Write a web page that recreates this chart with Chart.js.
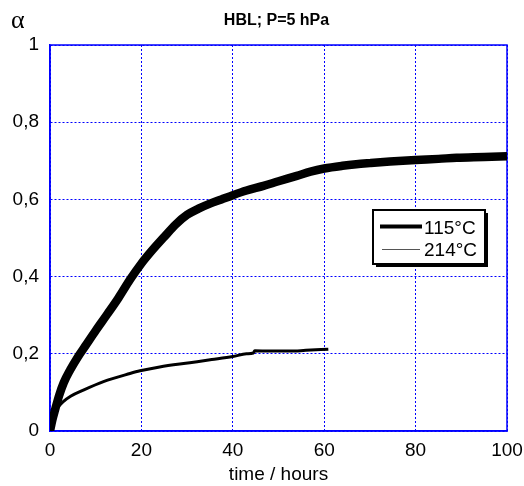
<!DOCTYPE html>
<html lang="en">
<head>
    <meta charset="UTF-8">
    <title>HBL; P=5 hPa</title>
    <script src="https://cdn.jsdelivr.net/npm/chart.js"></script>
    <style>
        body { margin: 0; background: #ffffff; }
        #chartWrap { width: 524px; height: 486px; }
    </style>
</head>
<body>
    <div id="chartWrap">
        <canvas id="alphaChart" width="524" height="486"></canvas>
    </div>
    <script>
        // data
        const chartTitle = 'HBL; P=5 hPa';
        const seriesLabels = ['115°C', '214°C'];

        const time115 = [0, 0.5, 1, 2, 3, 4.4, 6, 8, 10, 12.5, 15, 17.5, 20, 22.5, 25, 27.5, 30, 32.5, 35, 37.5, 40,
            43, 46.7, 50, 54, 57, 60, 64, 67, 70, 74.4, 80, 85, 89, 95, 100];
        const alpha115 = [0, 0.028, 0.05, 0.092, 0.125, 0.158, 0.19, 0.225, 0.26, 0.302, 0.345, 0.392, 0.434, 0.47, 0.503, 0.535, 0.56, 0.576, 0.589, 0.6, 0.611,
            0.623, 0.635, 0.647, 0.661, 0.672, 0.68, 0.687, 0.691, 0.694, 0.698, 0.702, 0.705, 0.708, 0.71, 0.712];

        const time214 = [0, 0.5, 1.2, 2, 2.9, 4.5, 7.3, 11.7, 17.5, 19.7, 24, 30.6, 35.4, 40, 43, 44.5,
            44.8, 48, 52.5, 56, 60.9];
        const alpha214 = [0, 0.035, 0.052, 0.065, 0.076, 0.09, 0.106, 0.128, 0.149, 0.156, 0.166, 0.177, 0.185, 0.193, 0.2, 0.202,
            0.208, 0.207, 0.207, 0.209, 0.212];

        const xTicks = [0, 20, 40, 60, 80, 100];
        const yTickValues = [0, 0.2, 0.4, 0.6, 0.8, 1];
        const yTickLabels = ['0', '0,2', '0,4', '0,6', '0,8', '1'];

        const fontName = '"Liberation Sans", Arial, sans-serif';

        function toPoints(xs, ys) {
            return xs.map((x, i) => ({ x: x, y: ys[i] }));
        }

        // title, alpha label, frame and legend box
        const decorations = {
            id: 'decorations',
            beforeDatasetsDraw(chart) {
                const ctx = chart.ctx;
                const a = chart.chartArea;
                ctx.save();
                ctx.strokeStyle = '#0000ff';
                ctx.lineWidth = 1.5;
                ctx.strokeRect(a.left, a.top, a.right - a.left, a.bottom - a.top);
                ctx.restore();
            },
            afterDraw(chart) {
                const ctx = chart.ctx;
                const a = chart.chartArea;
                ctx.save();
                ctx.fillStyle = '#000';
                ctx.textBaseline = 'middle';
                ctx.textAlign = 'center';
                ctx.font = 'bold 16px ' + fontName;
                ctx.fillText(chartTitle, (a.left + a.right) / 2 - 2, 21);

                ctx.font = '26px "Liberation Serif", "Times New Roman", serif';
                ctx.textAlign = 'left';
                ctx.fillText('α', 11, 21);

                // legend
                const bx = 373, by = 210, bw = 112, bh = 54;
                ctx.fillStyle = '#000';
                ctx.fillRect(bx + 3, by + 3, bw, bh);
                ctx.fillStyle = '#fff';
                ctx.fillRect(bx, by, bw, bh);
                ctx.strokeStyle = '#000';
                ctx.lineWidth = 2;
                ctx.strokeRect(bx, by, bw, bh);

                ctx.beginPath();
                ctx.lineWidth = 4;
                ctx.moveTo(380, 226.5);
                ctx.lineTo(422, 226.5);
                ctx.stroke();
                ctx.beginPath();
                ctx.lineWidth = 1.2;
                ctx.strokeStyle = '#555';
                ctx.moveTo(382, 249.5);
                ctx.lineTo(420, 249.5);
                ctx.stroke();

                ctx.fillStyle = '#000';
                ctx.font = '19px ' + fontName;
                ctx.textAlign = 'left';
                ctx.fillText(seriesLabels[0], 424, 229);
                ctx.fillText(seriesLabels[1], 424, 251);
                ctx.restore();
            }
        };

        const ctx = document.getElementById('alphaChart').getContext('2d');
        const alphaChart = new Chart(ctx, {
            type: 'line',
            data: {
                datasets: [{
                    label: seriesLabels[0],
                    data: toPoints(time115, alpha115),
                    borderColor: '#000',
                    borderWidth: 8.5,
                    pointRadius: 0,
                    cubicInterpolationMode: 'monotone',
                    fill: false
                }, {
                    label: seriesLabels[1],
                    data: toPoints(time214, alpha214),
                    borderColor: '#000',
                    borderWidth: 3,
                    pointRadius: 0,
                    cubicInterpolationMode: 'monotone',
                    fill: false
                }]
            },
            options: {
                responsive: false,
                animation: false,
                layout: { padding: { top: 45, right: 17, left: 0, bottom: 0 } },
                plugins: {
                    legend: { display: false },
                    title: { display: false },
                    tooltip: { enabled: false }
                },
                scales: {
                    x: {
                        type: 'linear',
                        min: 0,
                        max: 100,
                        afterFit: (scale) => {
                            scale.height = 55;
                            scale.paddingLeft = 0;
                            scale.paddingRight = 0;
                        },
                        afterBuildTicks: (scale) => { scale.ticks = xTicks.map(v => ({ value: v })); },
                        ticks: {
                            color: '#000',
                            font: { family: fontName, size: 19 },
                            padding: 8,
                            maxRotation: 0
                        },
                        grid: { color: '#0000ff', lineWidth: 1, drawTicks: false },
                        border: { color: '#0000ff', width: 1.5, dash: [2, 2] },
                        title: {
                            display: true,
                            text: 'time / hours',
                            color: '#000',
                            font: { family: fontName, size: 19 },
                            padding: { top: 0, bottom: 0 }
                        }
                    },
                    y: {
                        min: 0,
                        max: 1,
                        afterFit: (scale) => { scale.width = 50; },
                        afterBuildTicks: (scale) => { scale.ticks = yTickValues.map(v => ({ value: v })); },
                        ticks: {
                            color: '#000',
                            font: { family: fontName, size: 19 },
                            padding: 11,
                            callback: (value) => yTickLabels[yTickValues.indexOf(Math.round(value * 10) / 10)]
                        },
                        grid: { color: '#0000ff', lineWidth: 1, drawTicks: false },
                        border: { color: '#0000ff', width: 1.5, dash: [2, 2] }
                    }
                }
            },
            plugins: [decorations]
        });
    </script>
</body>
</html>
